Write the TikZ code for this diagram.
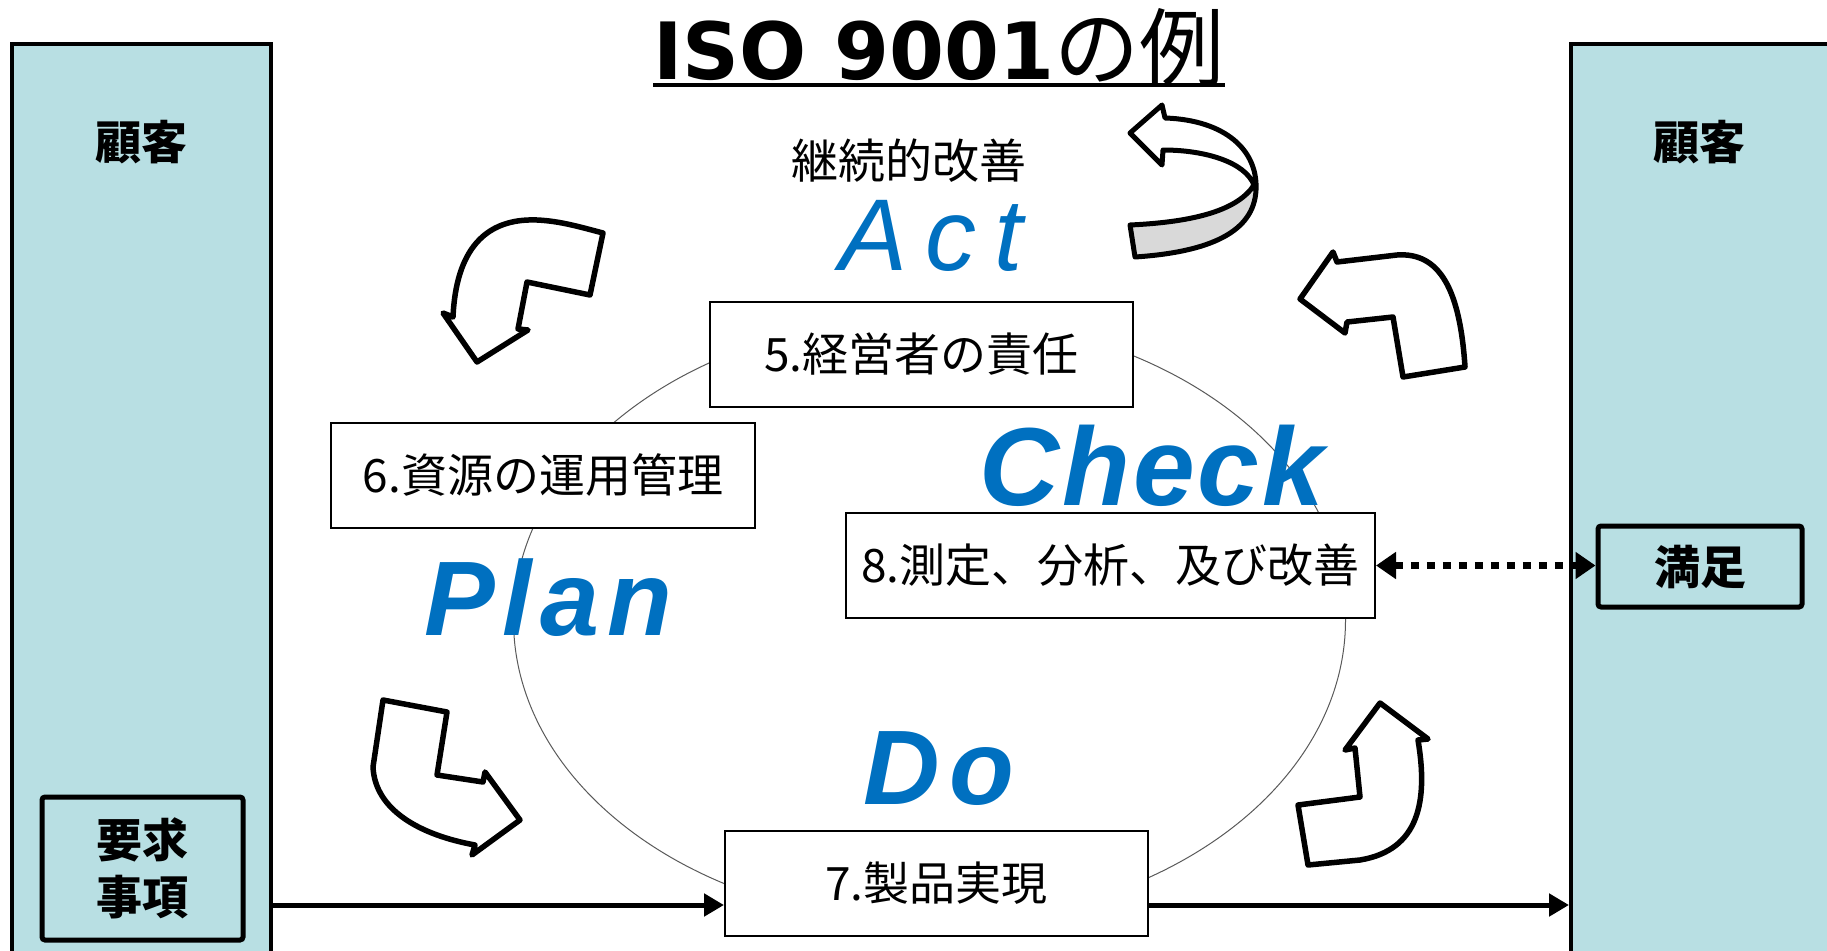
\documentclass[tikz,border=0pt]{standalone}
\usepackage{fontspec}
\setmainfont{Noto Sans CJK JP}
\newfontfamily\lat{Liberation Sans}
\newfontfamily\ttl{DejaVu Sans}
\usetikzlibrary{arrows.meta}
\definecolor{panel}{RGB}{184,223,227}
\definecolor{pdcablue}{RGB}{0,112,192}
\definecolor{bandgray}{RGB}{217,217,217}
\begin{document}
\begin{tikzpicture}[x=1pt,y=-1pt,
 panelbox/.style={draw=black, line width=4pt, fill=panel, inner sep=0pt},
 box/.style={draw=black, line width=2pt, fill=white, inner sep=0pt, minimum height=105pt, font=\fontsize{46pt}{55pt}\selectfont},
 innerbox/.style={draw=black, line width=5pt, fill=panel, rounded corners=3pt, inner sep=0pt, font=\fontsize{46pt}{57pt}\selectfont\bfseries, align=center},
 paneltext/.style={inner sep=0pt, font=\fontsize{46pt}{55pt}\selectfont\bfseries},
 pdca/.style={text=pdcablue, inner sep=0pt, anchor=base west},
 bent/.style={draw=black, line width=5.5pt, line join=round, fill=white},
 flow/.style={draw=black, line width=5pt, -{Triangle[length=20pt,width=22pt]}},
 dots/.style={draw=black, line width=7pt, dash pattern=on 8pt off 8pt, {Triangle[length=20pt,width=26pt]}-{Triangle[length=20pt,width=26pt]}},
 orbit/.style={draw=black!65, line width=1pt}
]
\useasboundingbox (0,0) rectangle (1827,950);

% side panels
\node[panelbox, minimum width=259pt, minimum height=930pt] (lp) at (141.5,509) {};
\node[panelbox, minimum width=280pt, minimum height=930pt] (rp) at (1711,509) {};
\node[paneltext] (lc) at (141,142) {顧客};
\node[paneltext] (rc) at (1699,142) {顧客};
\node[innerbox, minimum width=201pt, minimum height=143pt] (req) at (142.5,868.5) {要求\\事項};
\node[innerbox, minimum width=204pt, minimum height=81pt] (sat) at (1700,566.5) {満足};

% title
\node[anchor=base, inner sep=0pt] (title) at (939,79) {{\ttl\bfseries\fontsize{79pt}{90pt}\selectfont ISO 9001}{\fontsize{85pt}{90pt}\selectfont の例}};
\draw[line width=4pt] ([yshift=-6pt]title.base west) -- ([yshift=-6pt]title.base east);

% cycle ellipse
\draw[orbit] (929.5,620) ellipse [x radius=416, y radius=303];

% process boxes
\node[box, minimum width=423pt] (b5) at (921.5,354.5) {5.経営者の責任};
\node[box, minimum width=424pt] (b6) at (543,475.5) {6.資源の運用管理};
\node[box, minimum width=529pt] (b8) at (1110.5,565.5) {8.測定、分析、及び改善};
\node[box, minimum width=423pt] (b7) at (936.5,883.5) {7.製品実現};

% texts
\node[inner sep=0pt, font=\fontsize{47pt}{55pt}\selectfont] (kaizen) at (909,161) {継続的改善};
\node[pdca, font=\lat\itshape\fontsize{102pt}{110pt}\selectfont] (act) at (839,270) {A\hspace{18pt}c\hspace{18pt}t};
\node[pdca, font=\lat\bfseries\itshape\fontsize{111pt}{120pt}\selectfont] (check) at (979,505) {C\hspace{3pt}h\hspace{3pt}e\hspace{3pt}c\hspace{3pt}k};
\node[pdca, font=\lat\bfseries\itshape\fontsize{106pt}{115pt}\selectfont] (plan) at (424,635) {P\hspace{8pt}l\hspace{8pt}a\hspace{8pt}n};
\node[pdca, font=\lat\bfseries\itshape\fontsize{106pt}{115pt}\selectfont] (do) at (863,804) {D\hspace{10pt}o};

% connectors
\coordinate (in7) at ([yshift=-21.5pt]b7.west);
\coordinate (out7) at ([yshift=-21.5pt]b7.east);
\draw[flow] (lp.east |- in7) -- (in7);
\draw[flow] (out7) -- (rp.west |- out7);
\draw[dots] (b8.east) -- (b8.east -| sat.west);

% bent arrows
\draw[bent] (603,233) -- (590,295) -- (527,282) -- (518,329) -- (528,330) -- (477,362) -- (443,313) -- (453,317)
  .. controls (456,250) and (485,218) .. (537,220) .. controls (560,221) and (580,227) .. cycle;
\draw[bent] (1300,299) -- (1333,252) -- (1337,262) -- (1397,255) .. controls (1440,252) and (1460,290) .. (1465,367)
  -- (1403,377) -- (1393,317) -- (1347,322) -- (1345,333) -- cycle;
\draw[bent] (383,700) -- (447,712) -- (437,775) -- (483,782) -- (485,772) -- (520,820) -- (472,855) -- (475,845)
  .. controls (420,835) and (375,810) .. (373,767) -- cycle;
\draw[bent] (1380,703) -- (1428,739) -- (1418,740) .. controls (1428,800) and (1420,850) .. (1360,860) -- (1308,865)
  -- (1298,805) -- (1360,797) -- (1355,748) -- (1345,750) -- cycle;

% U-turn arrow
\fill[white] (1130,133) -- (1162,105) -- (1165,118) .. controls (1225,120) and (1258,150) .. (1256,190)
  .. controls (1254,232) and (1210,252) .. (1135,257) -- (1130,225) .. controls (1195,222) and (1238,210) .. (1254,185)
  .. controls (1245,162) and (1205,150) .. (1163,150) -- (1162,165) -- cycle;
\fill[bandgray] (1130,225) .. controls (1195,222) and (1238,210) .. (1254,185) -- (1256,190)
  .. controls (1254,232) and (1210,252) .. (1135,257) -- cycle;
\draw[line width=5pt, line join=round] (1130,133) -- (1162,105) -- (1165,118) .. controls (1225,120) and (1258,150) .. (1256,190)
  .. controls (1254,232) and (1210,252) .. (1135,257) -- (1130,225) .. controls (1195,222) and (1238,210) .. (1254,185)
  .. controls (1245,162) and (1205,150) .. (1163,150) -- (1162,165) -- cycle;
\end{tikzpicture}
\end{document}
